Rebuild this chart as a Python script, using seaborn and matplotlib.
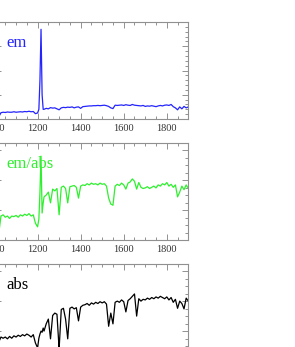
import matplotlib
matplotlib.use("Agg")
import matplotlib.pyplot as plt
import seaborn as sns
from matplotlib.ticker import MultipleLocator

sns.set_style("ticks")
plt.rcParams["font.family"] = ["Liberation Serif", "DejaVu Serif"]

# wavelength grid (Angstrom), extra samples around Lyman alpha
wave = [1000, 1010, 1020, 1030, 1040, 1050, 1060, 1070, 1080, 1090,
        1100, 1110, 1120, 1130, 1140, 1150, 1160, 1170, 1180, 1190,
        1200, 1206, 1211, 1216, 1221, 1226, 1230, 1240, 1250, 1260,
        1270, 1280, 1290, 1300, 1310, 1320, 1330, 1340, 1350, 1360,
        1370, 1380, 1390, 1400, 1410, 1420, 1430, 1440, 1450, 1460,
        1470, 1480, 1490, 1500, 1510, 1520, 1530, 1540, 1550, 1560,
        1570, 1580, 1590, 1600, 1610, 1620, 1630, 1640, 1650, 1660,
        1670, 1680, 1690, 1700, 1710, 1720, 1730, 1740, 1750, 1760,
        1770, 1780, 1790, 1800, 1810, 1820, 1830, 1840, 1850, 1860,
        1870, 1880, 1890, 1900]

em = [0.05, 0.06, 0.10, 0.26, 0.28, 0.27, 0.29, 0.28, 0.28, 0.30,
      0.28, 0.29, 0.30, 0.29, 0.31, 0.30, 0.32, 0.30, 0.31, 0.22,
      0.25, 0.40, 1.60, 3.70, 1.00, 0.40, 0.40, 0.44, 0.42, 0.47,
      0.45, 0.46, 0.42, 0.38, 0.46, 0.48, 0.47, 0.49, 0.48, 0.50,
      0.46, 0.49, 0.50, 0.44, 0.51, 0.52, 0.53, 0.54, 0.54, 0.55,
      0.55, 0.56, 0.55, 0.56, 0.57, 0.55, 0.52, 0.46, 0.43, 0.57,
      0.56, 0.57, 0.58, 0.56, 0.59, 0.57, 0.56, 0.60, 0.57, 0.56,
      0.55, 0.54, 0.56, 0.52, 0.54, 0.53, 0.55, 0.53, 0.51, 0.54,
      0.56, 0.54, 0.57, 0.58, 0.56, 0.60, 0.51, 0.46, 0.38, 0.50,
      0.42, 0.52, 0.46, 0.50]

em_abs = [0.08, 0.10, 0.12, 0.40, 0.42, 0.38, 0.40, 0.36, 0.40, 0.39,
          0.41, 0.38, 0.42, 0.40, 0.43, 0.41, 0.44, 0.40, 0.42, 0.28,
          0.22, 0.35, 0.80, 1.40, 0.45, 0.62, 0.72, 0.75, 0.80, 0.62,
          0.85, 0.82, 0.86, 0.42, 0.88, 0.90, 0.86, 0.62, 0.89, 0.90,
          0.91, 0.88, 0.70, 0.90, 0.92, 0.91, 0.94, 0.92, 0.95, 0.93,
          0.94, 0.92, 0.95, 0.93, 0.94, 0.90, 0.70, 0.60, 0.58, 0.90,
          0.93, 0.91, 0.95, 0.92, 0.85, 0.95, 0.97, 1.02, 0.98, 0.85,
          0.96, 0.88, 0.86, 0.87, 0.89, 0.86, 0.88, 0.90, 0.87, 0.92,
          0.90, 0.94, 0.92, 0.96, 0.90, 0.93, 0.88, 0.92, 0.72, 0.80,
          0.90, 0.84, 0.92, 0.86]

absorb = [0.30, 0.30, 0.32, 0.40, 0.38, 0.40, 0.37, 0.41, 0.38, 0.42,
          0.40, 0.43, 0.41, 0.44, 0.42, 0.45, 0.43, 0.40, 0.44, 0.30,
          0.22, 0.38, 0.45, 0.50, 0.48, 0.55, 0.50, 0.62, 0.70, 0.37,
          0.76, 0.80, 0.78, 0.20, 0.86, 0.88, 0.70, 0.37, 0.88, 0.90,
          0.87, 0.89, 0.67, 0.90, 0.93, 0.94, 0.96, 0.93, 0.97, 0.95,
          0.98, 0.96, 0.99, 0.97, 0.99, 0.95, 0.58, 0.80, 0.62, 0.98,
          1.00, 0.98, 1.02, 0.99, 0.82, 1.01, 1.04, 1.08, 1.12, 0.75,
          1.04, 1.00, 1.03, 1.02, 1.05, 1.03, 1.06, 1.04, 1.07, 1.05,
          1.08, 1.06, 1.04, 1.07, 1.02, 1.06, 0.98, 1.03, 0.88, 1.00,
          0.96, 0.87, 1.05, 1.00]

panels = [
    ("em", em, "#2424ff", (0, 4), 1.0, 0.2, 0.657),
    ("em/abs", em_abs, "#2ef02e", (0, 1.62), 0.5, 0.125, 0.3084),
    ("abs", absorb, "#000000", (0, 1.62), 0.5, 0.125, -0.0403),
]

fig = plt.figure(figsize=(2.95, 3.47), dpi=100)

for label, flux, color, ylim, ymaj, ymin, bottom in panels:
    ax = fig.add_axes([-0.0186, bottom, 0.657, 0.2795])
    sns.lineplot(x=wave, y=flux, ax=ax, color=color, lw=0.9)
    ax.set_xlim(1000, 1900)
    ax.set_ylim(*ylim)
    ax.xaxis.set_major_locator(MultipleLocator(200))
    ax.xaxis.set_minor_locator(MultipleLocator(50))
    ax.yaxis.set_major_locator(MultipleLocator(ymaj))
    ax.yaxis.set_minor_locator(MultipleLocator(ymin))
    ax.tick_params(which="both", direction="in", top=True, right=True,
                   color="#808080", width=0.6, labelleft=False,
                   labelsize=7.5, labelcolor="#333333", pad=3.5)
    ax.tick_params(which="major", length=4)
    ax.tick_params(which="minor", length=2)
    for sp in ax.spines.values():
        sp.set_color("#909090")
        sp.set_linewidth(0.8)
    ax.text(0.059, 0.745, label, transform=ax.transAxes, color=color,
            fontsize=12, va="baseline", ha="left")

fig.savefig("out.png", dpi=100)
